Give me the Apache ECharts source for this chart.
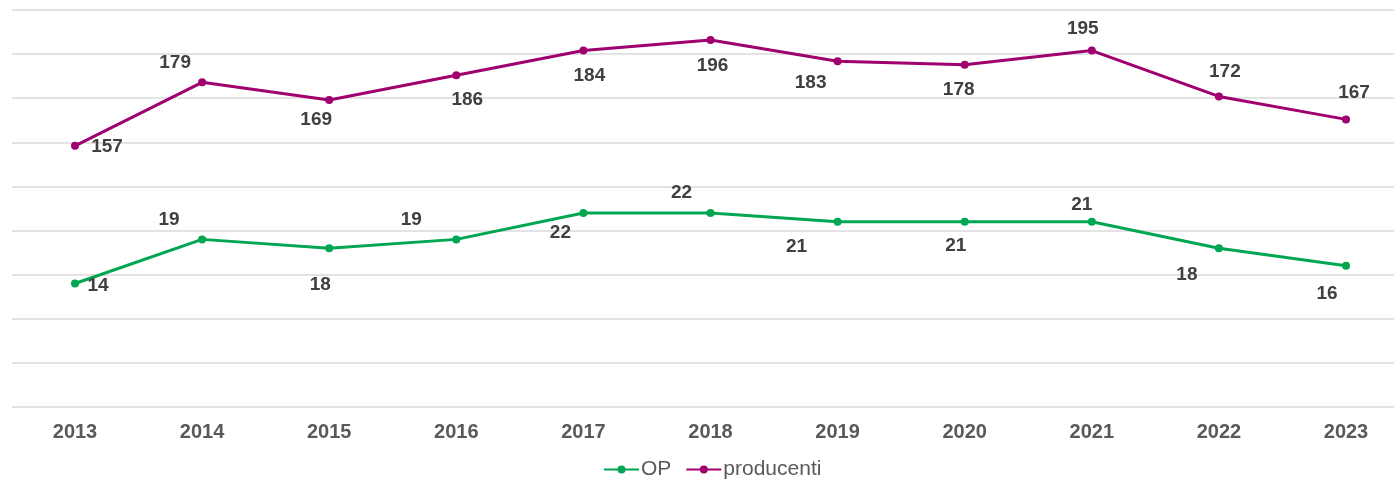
<!DOCTYPE html>
<html>
<head>
<meta charset="utf-8">
<title>OP / producenti</title>
<script src="https://cdn.jsdelivr.net/npm/echarts@6/dist/echarts.min.js"></script>
<style>
  html, body { margin: 0; padding: 0; background: #fff; }
  #chart { width: 1394px; height: 480px; }
</style>
</head>
<body>
<div id="chart"></div>
<script>
// data
var years = ['2013', '2014', '2015', '2016', '2017', '2018', '2019', '2020', '2021', '2022', '2023']
var opValues = [14, 19, 18, 19, 22, 22, 21, 21, 21, 18, 16]
// producenti line as it is drawn (own hidden axis 0-225), and the labels printed on it
var producentiValues = [148, 184, 174, 188, 202, 208, 196, 194, 202, 176, 163]
var producentiLabels = [157, 179, 169, 186, 184, 196, 183, 178, 195, 172, 167]

// label placement (dx, dy from the point)
var opOffsets = [[23, 2], [-33, -20], [-9, 37], [-45, -20], [-23, 20], [-29, -20],
  [-41, 25], [-9, 24], [-10, -17], [-32, 27], [-19, 28]]
var prodOffsets = [[32, 1], [-27, -20], [-13, 20], [11, 24], [6, 25], [2, 26],
  [-27, 22], [-6, 25], [-9, -22], [6, -25], [8, -27]]

var green = '#00a651'
var purple = '#a0006e'

function points(values, offsets, texts) {
  return values.map(function (v, i) {
    return {
      value: v,
      label: {
        offset: offsets[i],
        formatter: String(texts ? texts[i] : v)
      }
    }
  })
}

var labelStyle = {
  show: true,
  position: 'inside',
  align: 'center',
  verticalAlign: 'middle',
  color: '#404040',
  fontFamily: 'Liberation Sans, Arial, sans-serif',
  fontSize: 19,
  fontWeight: 'bold'
}

var chart = echarts.init(document.getElementById('chart'))
chart.setOption({
  animation: false,
  grid: [
    { left: 12, right: 0, top: 10, bottom: 73 },
    { left: 75, right: 48, top: 10, bottom: 73 }
  ],
  legend: {
    data: ['OP', 'producenti'],
    left: 598,
    top: 454,
    itemWidth: 35,
    itemHeight: 10,
    itemGap: 14,
    textStyle: {
      color: '#595959',
      fontFamily: 'Liberation Sans, Arial, sans-serif',
      fontSize: 21,
      padding: [0, 0, 0, -3]
    }
  },
  xAxis: [
    { gridIndex: 0, type: 'category', data: years, show: false },
    {
      gridIndex: 1,
      type: 'category',
      data: years,
      boundaryGap: false,
      axisLine: { show: false },
      axisTick: { show: false },
      axisLabel: {
        margin: 15,
        color: '#595959',
        fontFamily: 'Liberation Sans, Arial, sans-serif',
        fontSize: 20,
        fontWeight: 'bold'
      }
    }
  ],
  yAxis: [
    {
      gridIndex: 0,
      type: 'value',
      min: 0,
      max: 45,
      interval: 5,
      axisLine: { show: false },
      axisTick: { show: false },
      axisLabel: { show: false },
      splitLine: { lineStyle: { color: '#e3e3e3', width: 2 } }
    },
    { gridIndex: 1, type: 'value', min: 0, max: 45, show: false, splitLine: { show: false } },
    { gridIndex: 1, type: 'value', min: 0, max: 225, show: false, splitLine: { show: false } }
  ],
  series: [
    {
      name: 'OP',
      type: 'line',
      xAxisIndex: 1,
      yAxisIndex: 1,
      data: points(opValues, opOffsets),
      color: green,
      lineStyle: { width: 3 },
      symbol: 'circle',
      symbolSize: 8,
      label: labelStyle
    },
    {
      name: 'producenti',
      type: 'line',
      xAxisIndex: 1,
      yAxisIndex: 2,
      data: points(producentiValues, prodOffsets, producentiLabels),
      color: purple,
      lineStyle: { width: 3 },
      symbol: 'circle',
      symbolSize: 8,
      label: labelStyle
    }
  ]
})
</script>
</body>
</html>
